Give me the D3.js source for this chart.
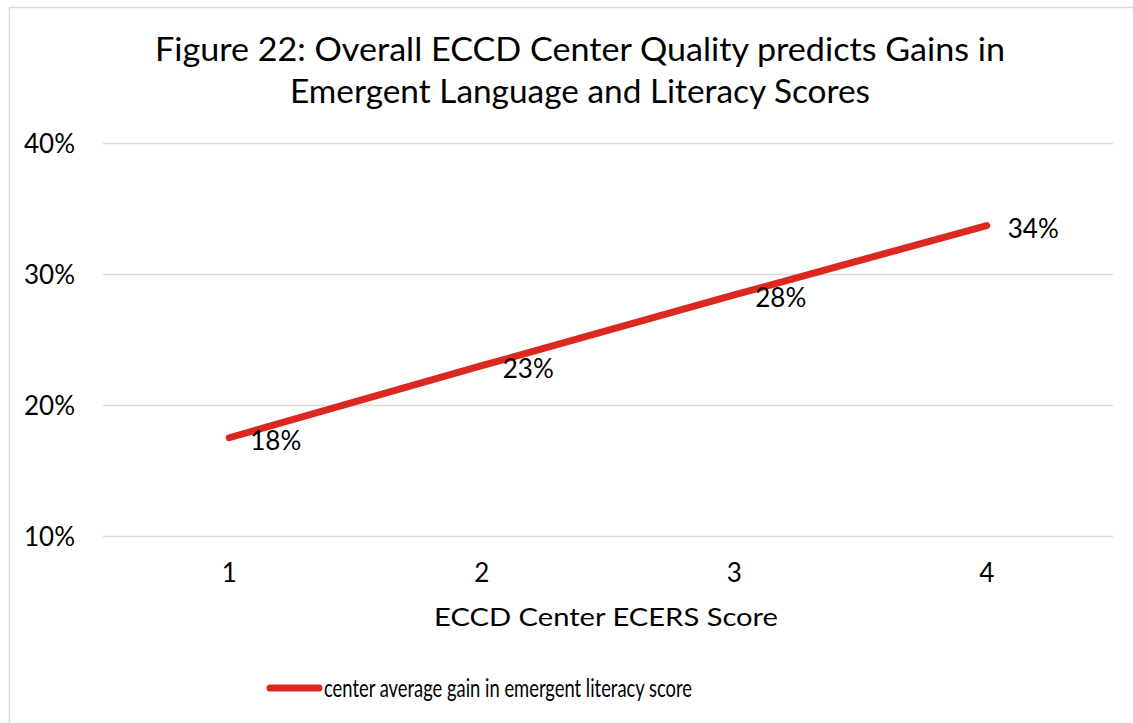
<!DOCTYPE html>
<html>
<head>
<meta charset="utf-8">
<script src="https://cdn.jsdelivr.net/npm/d3@7"></script>
<style>
  body { margin: 0; background: #fff; }
  svg text { font-family: Lato, "Open Sans", sans-serif; fill: #000; }
</style>
</head>
<body>
<svg id="chart" width="1133" height="723"></svg>
<script>
// chart data
var scores = ["1", "2", "3", "4"];
var gains = [0.175, 0.230, 0.284, 0.337];
var yTicks = [0.10, 0.20, 0.30, 0.40];
var titleLines = ["Figure 22: Overall ECCD Center Quality predicts Gains in",
                  "Emergent Language and Literacy Scores"];
var xTitle = "ECCD Center ECERS Score";
var seriesName = "center average gain in emergent literacy score";

var svg = d3.select("#chart");
var margin = { top: 143, right: 20, bottom: 187, left: 103 };
var width = +svg.attr("width") - margin.left - margin.right;
var height = +svg.attr("height") - margin.top - margin.bottom;
var red = "#dc2820";

// frame
svg.append("rect")
    .attr("x", 9.5).attr("y", 7.5)
    .attr("width", 1140).attr("height", 730)
    .attr("fill", "#fff")
    .attr("stroke", "#d9d9d9")
    .attr("stroke-width", 1.5);

// title
var titleWidths = [850, 580];
svg.append("g").selectAll("text")
    .data(titleLines)
    .enter().append("text")
    .attr("x", 580)
    .attr("y", (d, i) => 61 + i * 42)
    .attr("text-anchor", "middle")
    .attr("textLength", (d, i) => titleWidths[i])
    .attr("lengthAdjust", "spacingAndGlyphs")
    .style("font-size", "32px")
    .text(d => d);

var x = d3.scaleBand().domain(scores).range([0, width]);
var y = d3.scaleLinear().domain([0.10, 0.40]).range([height, 0]);

var g = svg.append("g").attr("transform", "translate(" + margin.left + "," + margin.top + ")");

// gridlines + y labels
g.append("g")
    .call(d3.axisLeft(y).tickValues(yTicks).tickSize(-width).tickPadding(28).tickFormat(d3.format(".0%")))
    .call(a => a.select(".domain").remove())
    .call(a => a.selectAll(".tick line").attr("stroke", "#d9d9d9").attr("stroke-width", 1.5))
    .call(a => a.selectAll(".tick text").style("font-size", "26px").attr("dy", "0.38em").attr("fill", "#000"));

// x labels
g.append("g")
    .attr("transform", "translate(0," + height + ")")
    .call(d3.axisBottom(x).tickSize(0).tickPadding(28))
    .call(a => a.select(".domain").remove())
    .call(a => a.selectAll(".tick text").style("font-size", "26px").attr("fill", "#000"));

g.append("text")
    .attr("x", width / 2 - 2)
    .attr("y", height + 90)
    .attr("text-anchor", "middle")
    .attr("textLength", 344)
    .attr("lengthAdjust", "spacingAndGlyphs")
    .style("font-size", "25px")
    .text(xTitle);

var pts = scores.map((s, i) => ({ s: s, v: gains[i] }));

var line = d3.line()
    .x(d => x(d.s) + x.bandwidth() / 2)
    .y(d => y(d.v));

g.append("path")
    .datum(pts)
    .attr("d", line)
    .attr("fill", "none")
    .attr("stroke", red)
    .attr("stroke-width", 7)
    .attr("stroke-linecap", "round");

g.selectAll(".lbl")
    .data(pts)
    .enter().append("text")
    .attr("class", "lbl")
    .attr("x", d => x(d.s) + x.bandwidth() / 2 + 21)
    .attr("y", d => y(d.v) + 3)
    .attr("dy", "0.35em")
    .style("font-size", "26px")
    .text(d => d3.format(".0%")(d.v));

// legend
var leg = svg.append("g").attr("transform", "translate(267,688)");
leg.append("line")
    .attr("x1", 3).attr("x2", 52)
    .attr("stroke", red).attr("stroke-width", 7).attr("stroke-linecap", "round");
leg.append("text")
    .attr("x", 57)
    .attr("dy", "0.35em")
    .attr("textLength", 368)
    .attr("lengthAdjust", "spacingAndGlyphs")
    .style("font-size", "25px")
    .text(seriesName);
</script>
</body>
</html>
